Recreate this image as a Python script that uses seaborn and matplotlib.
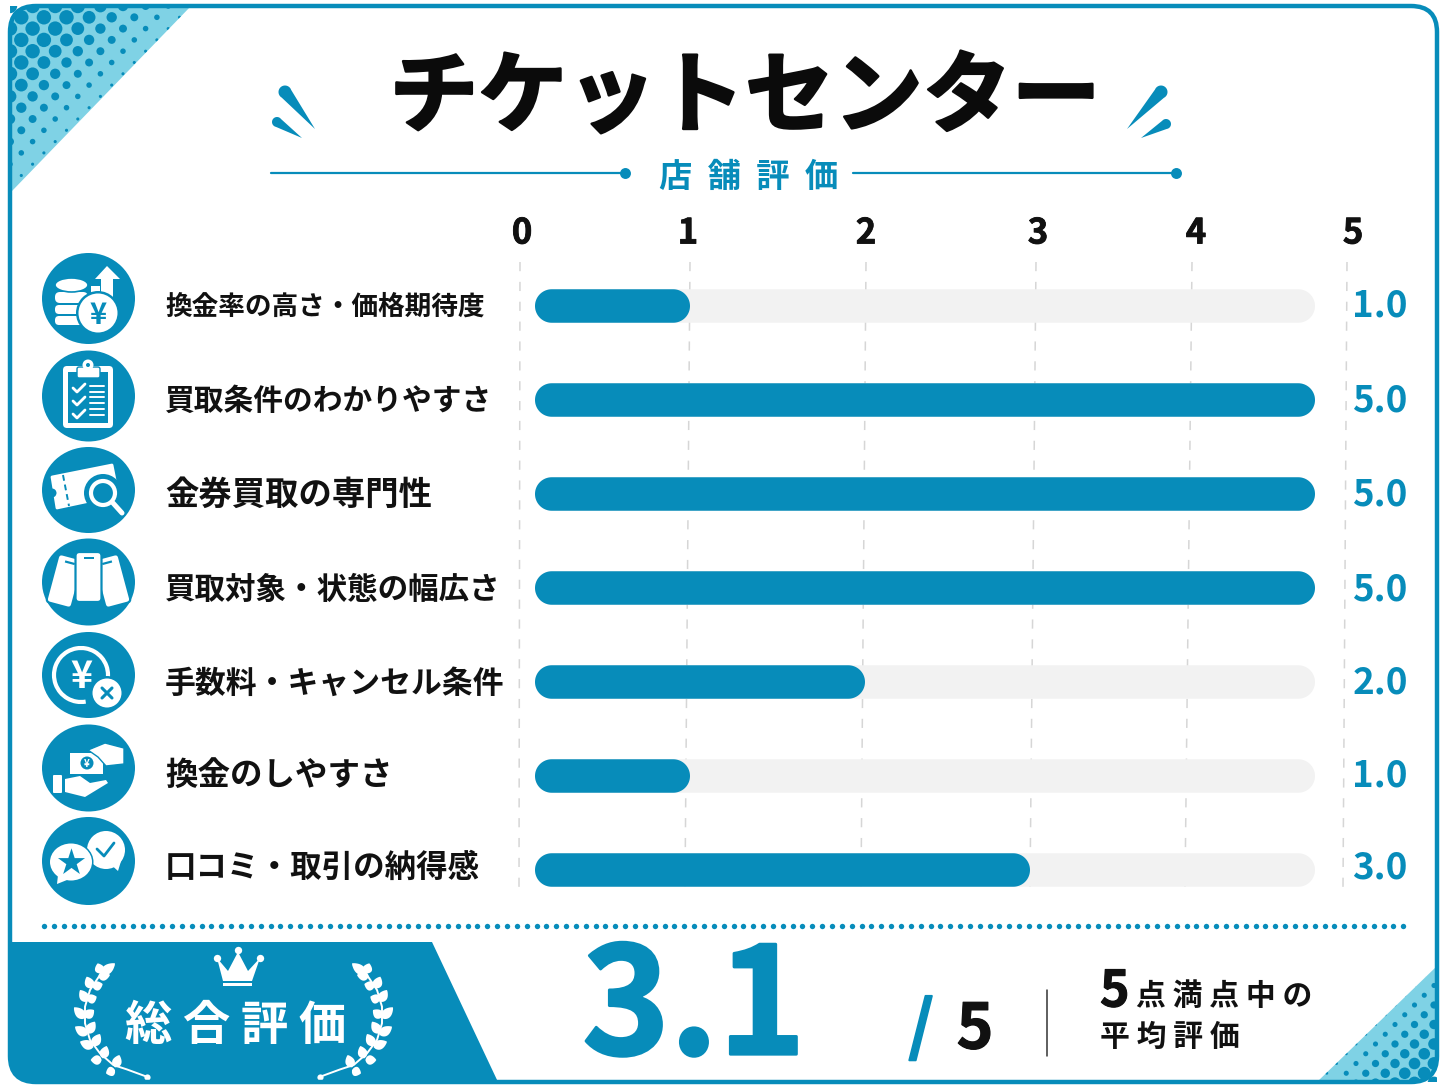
# Modules
import numpy as np
import pandas as pd
import seaborn as sns
import matplotlib
matplotlib.use('Agg')
import matplotlib.pyplot as plt
import matplotlib.patheffects as pe
from matplotlib.patches import Circle, Ellipse, FancyBboxPatch, PathPatch, Polygon, Rectangle, Arc
from matplotlib.path import Path
from matplotlib.transforms import Affine2D, IdentityTransform

# Data
items = ['換金率の高さ・価格期待度', '買取条件のわかりやすさ', '金券買取の専門性', '買取対象・状態の幅広さ',
         '手数料・キャンセル条件', '換金のしやすさ', '口コミ・取引の納得感']
scores = [1.0, 5.0, 5.0, 5.0, 2.0, 1.0, 3.0]
max_scores = [5.0, 5.0, 5.0, 5.0, 5.0, 5.0, 5.0]
tick_labels = ['0', '1', '2', '3', '4', '5']
title = 'チケットセンター'
subtitle = '店  舗  評  価'
total_label = '総 合 評 価'
total_score = '3.1'
total_max = '5'

BLUE = '#078CBA'
CYAN = '#7FD2E5'
TRACK = '#F2F2F2'
INK = '#111111'
W, H = 1448, 1086

sns.set_theme(style='white')
plt.rcParams['font.family'] = ['Noto Sans CJK JP', 'DejaVu Sans']
plt.rcParams['patch.force_edgecolor'] = False

fig = plt.figure(figsize=(W / 100, H / 100), dpi=100, facecolor='white')

# Whole figure canvas in pixel coordinates for the decoration
px = fig.add_axes([0, 0, 1, 1], zorder=1)
px.set_xlim(0, W)
px.set_ylim(H, 0)
px.axis('off')

frame = FancyBboxPatch((10, 6), 1427, 1076, boxstyle='round,pad=0,rounding_size=26',
                       fc='none', ec=BLUE, lw=3.2, zorder=6, transform=px.transData)
clip_frame = FancyBboxPatch((10, 6), 1427, 1076, boxstyle='round,pad=0,rounding_size=26',
                            fc='none', ec='none', transform=px.transData)
px.add_patch(frame)


def halftone(tri, near, far, pitch, rmax, rmin):
    # corner triangle with dots shrinking towards the diagonal
    poly = Polygon(tri, closed=True, fc=CYAN, ec='none', zorder=2)
    px.add_patch(poly)
    poly.set_clip_path(clip_frame)
    tri_path = Polygon(tri, closed=True, transform=px.transData)
    xs = [p[0] for p in tri]
    ys = [p[1] for p in tri]
    rows = np.arange(min(ys), max(ys) + pitch, pitch / 2)
    for i, y in enumerate(rows):
        for x in np.arange(min(xs) + (i % 2) * pitch / 2, max(xs) + pitch, pitch):
            d = abs(x - near[0]) + abs(y - near[1])
            t = np.clip((d - far[0]) / (far[1] - far[0]), 0, 1)
            dot = Circle((x, y), rmax + (rmin - rmax) * t, fc=BLUE, ec='none', zorder=3)
            px.add_patch(dot)
            dot.set_clip_path(tri_path)


halftone([(10, 6), (191, 6), (12, 191)], (10, 6), (75, 182), 22.6, 7.2, 1.5)
halftone([(1437, 966), (1437, 1082), (1317, 1082)], (1437, 1082), (30, 122), 19.5, 6.4, 1.3)

# Score panel
panel = Polygon([(10, 942), (432, 942), (498, 1082), (10, 1082)], closed=True, fc=BLUE, ec='none', zorder=2)
px.add_patch(panel)
panel.set_clip_path(clip_frame)

# Header
px.text(745, 99, title, fontsize=64, fontweight='bold', color='#0B0B0B', ha='center', va='center', zorder=5,
        path_effects=[pe.withStroke(linewidth=1.8, foreground='#0B0B0B')])
px.text(749, 177, subtitle, fontsize=24, fontweight='bold', color=BLUE, ha='center', va='center', zorder=5)
px.plot([271, 625], [173, 173], color=BLUE, lw=1.6, zorder=4)
px.plot([853, 1176], [173, 173], color=BLUE, lw=1.6, zorder=4)
px.scatter([625, 1176], [173, 173], s=62, color=BLUE, zorder=4, linewidths=0)


def spark(head, tip, r):
    d = np.array(tip, float) - np.array(head, float)
    a0 = np.arctan2(d[1], d[0])
    th = np.linspace(a0 + np.pi / 2.6, a0 + 2 * np.pi - np.pi / 2.6, 24)
    pts = np.c_[head[0] + r * np.cos(th), head[1] + r * np.sin(th)]
    px.add_patch(Polygon(np.vstack([pts, tip]), closed=True, fc=BLUE, ec='none', zorder=4))


spark((285, 92), (315, 129), 6.5)
spark((277, 122), (302, 138), 5)
spark((1161, 92), (1127, 129), 6.5)
spark((1166, 124), (1141, 138), 5)

# Grid lines and axis labels sit on their own hand drawn positions
grid_top = [520, 690, 866, 1036, 1192, 1347]
grid_bottom = [519, 685, 861, 1030, 1185, 1343]
tick_x = [522, 688, 866, 1038, 1196, 1353]
for tx, lab in zip(tick_x, tick_labels):
    px.text(tx, 233, lab, fontsize=25, fontweight='bold', color=INK, ha='center', va='center', zorder=5,
            path_effects=[pe.withStroke(linewidth=0.6, foreground=INK)])
for g0, g1 in zip(grid_top, grid_bottom):
    px.plot([g0, g1], [262, 888], color='#D6D6D6', lw=1.1, ls=(0, (6, 7)), zorder=2)

# Bars
df = pd.DataFrame({'item': items, 'score': scores, 'max_score': max_scores})
ax = fig.add_axes([535 / W, 1 - 917 / H, (1315 - 535) / W, (917 - 259) / H], zorder=3)
ax.patch.set_alpha(0)
sns.barplot(data=df, y='item', x='max_score', order=items, color=TRACK, width=33.5 / 94, saturation=1, ax=ax)
sns.barplot(data=df, y='item', x='score', order=items, color=BLUE, width=33.5 / 94, saturation=1, ax=ax)

# the picture does not space its values evenly
anchor_vals = [0, 1, 2, 3, 5]
anchor_pos = [0, 155, 330, 495, 780]
ax.set_xscale('function', functions=(lambda v: np.interp(v, anchor_vals, anchor_pos),
                                     lambda p: np.interp(p, anchor_pos, anchor_vals)))
ax.set_xlim(0, 5)
ax.set_ylim(6.5, -0.5)
ax.axis('off')


def pill(box):
    # outline with true half circle ends, in display coordinates
    r = box.height / 2
    th = np.linspace(-np.pi / 2, np.pi / 2, 40)
    right = np.c_[box.x1 - r + r * np.cos(th), box.y0 + r + r * np.sin(th)]
    left = np.c_[box.x0 + r - r * np.cos(th), box.y0 + r - r * np.sin(th)]
    return PathPatch(Path(np.vstack([right, left, right[:1]]), closed=True), transform=IdentityTransform())


# rounded ends
for bar in ax.patches:
    box = bar.get_window_extent()
    if box.width < 1:
        continue
    bar.set_clip_path(pill(box))

# Row labels and values
row_y = [307, 401, 495, 590, 684, 775, 868]
val_y = [306, 401, 495, 590, 683, 776, 868]
label_size = [19.2, 21.4, 24, 22, 22.2, 23.4, 22.7]
for name, val, y0, y1, fs in zip(items, scores, row_y, val_y, label_size):
    px.text(165, y0, name, fontsize=fs, fontweight='bold', color=INK, ha='left', va='center', zorder=5)
    px.text(1380, y1, f'{val:.1f}', fontsize=26.5, fontweight='bold', color=BLUE, ha='center', va='center', zorder=5)

# Icons
icon_y = [298.5, 396, 490, 582, 675, 768, 861]
for y, ry in zip(icon_y, [45.5, 45.5, 43, 43.5, 43, 43.5, 44]):
    px.add_patch(Ellipse((88.5, y), 93, 2 * ry, fc=BLUE, ec='none', zorder=3))


def white(patch, z=4):
    patch.set_zorder(z)
    px.add_patch(patch)


def rbox(x0, y0, x1, y1, r, fc='white', z=4, ec='none', lw=0):
    white(FancyBboxPatch((x0, y0), x1 - x0, y1 - y0, boxstyle=f'round,pad=0,rounding_size={r}',
                         fc=fc, ec=ec, lw=lw), z)


# coins
rbox(55, 292, 88, 303, 5)
rbox(55, 305, 88, 314, 4)
rbox(55, 316, 88, 325, 4)
white(Ellipse((71.5, 285), 33, 14, fc='white', ec=BLUE, lw=1.2))
white(Polygon([(107, 266), (120, 279), (113, 279), (113, 298), (101, 298), (101, 279), (95, 279)], fc='white'))
white(Rectangle((91, 286), 9, 7, fc='white'))
white(Circle((98, 313), 22, fc=BLUE), 5)
white(Circle((98, 313), 19.5, fc='white'), 5)
px.text(98, 315, '¥', fontsize=21, fontweight='bold', color=BLUE, ha='center', va='center', zorder=6)

# clipboard
rbox(63, 366, 113, 428, 4)
white(Rectangle((68, 372), 40, 51, fc=BLUE))
rbox(77, 367, 100, 378, 2, fc='white', z=5, ec=BLUE, lw=1)
white(Circle((88, 365), 5.5, fc='white'), 5)
white(Circle((88, 365), 2, fc=BLUE), 6)
for cy in [388, 401, 414]:
    px.plot([73, 77, 85], [cy, cy + 4, cy - 4], color='white', lw=2, solid_capstyle='round', zorder=5)
for ly in [386, 392, 397, 403, 409, 415]:
    px.plot([90, 104], [ly, ly], color='white', lw=1.4, zorder=5)

# ticket
white(Polygon([(52, 477), (112, 465), (118, 495), (57, 508)], fc='white', joinstyle='round', ec='white', lw=2))
white(Circle((52, 493), 4.5, fc=BLUE), 5)
px.plot([63, 69], [475, 506], color=BLUE, lw=1.4, ls=(0, (3, 2)), zorder=5)
white(Circle((103, 493), 19, fc=BLUE), 5)
white(Circle((103, 493), 12, fc=BLUE, ec='white', lw=3), 6)
px.plot([113, 122], [503, 513], color='white', lw=3.6, solid_capstyle='round', zorder=6)


# cards
def card(cx, cy, angle, z):
    t = Affine2D().rotate_deg_around(cx, cy, angle) + px.transData
    p = FancyBboxPatch((cx - 13, cy - 25), 26, 50, boxstyle='round,pad=0,rounding_size=4',
                       fc='white', ec=BLUE, lw=1.6, zorder=z, transform=t)
    px.add_patch(p)
    px.add_patch(Rectangle((cx - 5, cy - 20), 10, 2.2, fc=BLUE, ec='none', zorder=z, transform=t))


card(65, 581, 15, 4)
card(112, 581, -15, 4)
card(88.5, 577, 0, 5)
px.add_patch(Ellipse((88.5, 609), 22, 14, fc=BLUE, ec='none', zorder=6))

# yen with cross
white(Arc((81, 675), 54, 54, theta1=80, theta2=400, ec='white', lw=3))
px.text(81, 676, '¥', fontsize=27, fontweight='bold', color='white', ha='center', va='center', zorder=5)
white(Circle((107, 693), 17, fc=BLUE), 5)
white(Circle((107, 693), 14.5, fc='white'), 5)
px.plot([102, 112], [688, 698], color=BLUE, lw=2.2, solid_capstyle='round', zorder=6)
px.plot([102, 112], [698, 688], color=BLUE, lw=2.2, solid_capstyle='round', zorder=6)

# hands
white(Rectangle((70, 753), 33, 21, fc='white'))
white(Circle((87, 763), 6.5, fc=BLUE), 5)
px.text(87, 764, '¥', fontsize=7, fontweight='bold', color='white', ha='center', va='center', zorder=6)
white(Polygon([(88, 750), (105, 743), (124, 748), (124, 764), (106, 766), (98, 757)], fc='white', ec=BLUE, lw=1), 5)
rbox(53, 775, 62, 793, 1)
white(Polygon([(65, 779), (80, 776), (90, 783), (106, 780), (108, 783), (85, 797), (65, 792)], fc='white'))

# speech bubbles
white(Ellipse((106, 850), 38, 38, fc='white'))
white(Polygon([(108, 862), (118, 871), (122, 858)], fc='white'))
px.plot([97, 104, 114], [849, 856, 843], color=BLUE, lw=2, zorder=5)
white(Ellipse((71, 862), 45, 40, fc=BLUE), 5)
white(Ellipse((71, 862), 42, 37, fc='white'), 5)
white(Polygon([(58, 875), (57, 884), (72, 878)], fc='white'), 5)
px.scatter([71], [862], marker='*', s=420, color=BLUE, linewidths=0, zorder=6)

# Dotted separator
dot_x = np.arange(44, 1409, 9.85)
px.scatter(dot_x, np.full_like(dot_x, 925.5), s=15, color=BLUE, linewidths=0, zorder=4)

# Crown
white(Polygon([(217, 958), (228, 971), (238, 952), (248, 971), (260, 958), (252, 981), (223, 981)], fc='white'))
white(Rectangle((223, 983), 29, 2.6, fc='white'))
px.scatter([217, 238, 260], [958, 950, 958], s=28, color='white', linewidths=0, zorder=4)

stem = np.array([(340, 165), (300, 195), (270, 240), (255, 290), (255, 340), (270, 390),
                 (300, 430), (340, 465), (380, 478), (440, 500)], float)
leaves = [((303, 190), (293, 160)), ((305, 192), (345, 160)), ((295, 200), (330, 195)),
          ((275, 235), (260, 200)), ((278, 232), (308, 222)), ((262, 275), (240, 240)),
          ((262, 272), (290, 260)), ((255, 325), (222, 292)), ((255, 322), (282, 300)),
          ((262, 375), (225, 350)), ((262, 370), (285, 335)), ((280, 412), (240, 395)),
          ((280, 408), (300, 372)), ((305, 450), (272, 450)), ((308, 445), (320, 408)),
          ((345, 480), (318, 490)), ((345, 472), (358, 435))]


def crop_xy(p, side):
    x, y = p[0] / 3, 910 + p[1] / 3
    return (x if side == 0 else 467 - x), y


def leaf(base, tip, width):
    b, e = np.array(base), np.array(tip)
    d = e - b
    n = np.array([-d[1], d[0]]) / np.hypot(*d)
    t = np.linspace(0, 1, 14)
    half = width / 2 * np.sin(np.pi * t ** 0.8) ** 0.8
    top = b + np.outer(t, d) + np.outer(half, n)
    low = b + np.outer(t, d) - np.outer(half, n)
    return np.vstack([top, low[::-1]])


for side in [0, 1]:
    pts = np.array([crop_xy(p, side) for p in stem])
    px.plot(pts[:, 0], pts[:, 1], color='white', lw=1.4, zorder=4)
    px.scatter(pts[-1:, 0], pts[-1:, 1], s=20, color='white', linewidths=0, zorder=4)
    for b, e in leaves:
        white(Polygon(leaf(crop_xy(b, side), crop_xy(e, side), 9.5), closed=True, fc='white'))

px.text(236, 1026, total_label, fontsize=34, fontweight='bold', color='white', ha='center', va='center', zorder=5)

# Overall score
px.text(694, 1011, total_score, fontsize=107, fontweight='bold', color=BLUE, ha='center', va='center', zorder=5,
        path_effects=[pe.withStroke(linewidth=2, foreground=BLUE)])
px.text(921, 1029, '/', fontsize=47, fontweight='bold', style='italic', color=BLUE, ha='center', va='center', zorder=5,
        path_effects=[pe.withStroke(linewidth=1.4, foreground=BLUE)])
px.text(975, 1030, total_max, fontsize=45, fontweight='bold', color=INK, ha='center', va='center', zorder=5,
        path_effects=[pe.withStroke(linewidth=0.8, foreground=INK)])
px.plot([1047, 1047], [990, 1056], color='#333333', lw=1.1, zorder=4)
px.text(1100, 992, total_max, fontsize=36, fontweight='bold', color=INK, ha='left', va='center', zorder=5,
        path_effects=[pe.withStroke(linewidth=0.8, foreground=INK)])
px.text(1136, 996, '点 満 点 中 の', fontsize=21.5, fontweight='bold', color=INK, ha='left', va='center', zorder=5)
px.text(1100, 1037, '平 均 評 価', fontsize=21.5, fontweight='bold', color=INK, ha='left', va='center', zorder=5)

fig.savefig('out.png', dpi=100)
